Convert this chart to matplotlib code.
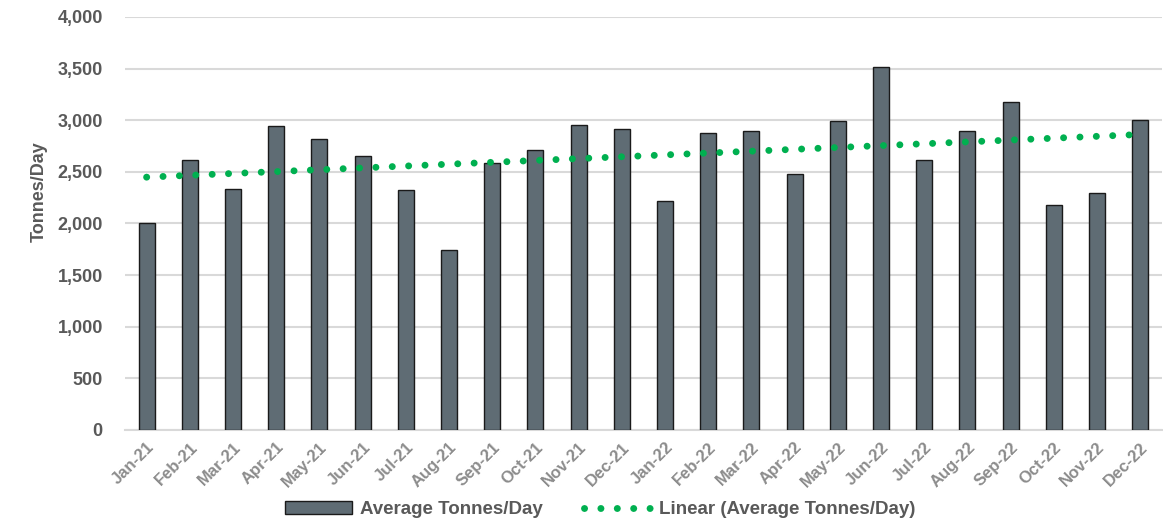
import numpy as np
import matplotlib
matplotlib.use("Agg")
import matplotlib.pyplot as plt
from matplotlib.ticker import FuncFormatter

plt.rcParams["font.family"] = ["Liberation Sans", "DejaVu Sans"]
plt.rcParams["font.weight"] = "bold"

months = ["Jan-21", "Feb-21", "Mar-21", "Apr-21", "May-21", "Jun-21",
          "Jul-21", "Aug-21", "Sep-21", "Oct-21", "Nov-21", "Dec-21",
          "Jan-22", "Feb-22", "Mar-22", "Apr-22", "May-22", "Jun-22",
          "Jul-22", "Aug-22", "Sep-22", "Oct-22", "Nov-22", "Dec-22"]
tonnes_per_day = [2005, 2615, 2334, 2944, 2818, 2654,
                  2324, 1738, 2586, 2712, 2954, 2915,
                  2218, 2877, 2894, 2475, 2993, 3516,
                  2610, 2894, 3172, 2174, 2297, 3006]

x = np.arange(len(months))
y = np.array(tonnes_per_day)

# least-squares trendline over the monthly averages
slope, intercept = np.polyfit(x, y, 1)
trend = slope * x + intercept

fig = plt.figure(figsize=(11.63, 5.23), dpi=100)
ax = fig.add_axes([0.1075, 0.178, 0.8915, 0.7895])

bars = ax.bar(x, y, width=0.37, color="#5f6c74", edgecolor="#1a1a1a",
              linewidth=1.0, label="Average Tonnes/Day", zorder=3)
line, = ax.plot(x, trend, color="#00b050", linestyle=(0, (0.01, 2.35)),
                linewidth=5, dash_capstyle="round",
                label="Linear (Average Tonnes/Day)", zorder=4)

ax.set_xlim(-0.5, len(months) - 0.5)
ax.set_ylim(0, 4000)
ax.set_yticks(np.arange(0, 4001, 500))
ax.yaxis.set_major_formatter(FuncFormatter(lambda v, p: f"{int(v):,}"))
ax.grid(axis="y", color="#d9d9d9", linewidth=1.5, zorder=0)
ax.set_axisbelow(True)

for side in ["top", "right", "left"]:
    ax.spines[side].set_visible(False)
ax.spines["bottom"].set_color("#d9d9d9")
ax.spines["bottom"].set_linewidth(1.5)

ax.set_xticks(x)
ax.set_xticklabels(months, rotation=45, ha="right", rotation_mode="anchor",
                   color="#8c8c8c", fontsize=12, fontweight="bold")
ax.tick_params(axis="x", length=0, pad=7)
ax.tick_params(axis="y", length=0, pad=16, labelsize=13, labelcolor="#595959")

ax.set_ylabel("Tonnes/Day", fontsize=13, fontweight="bold", color="#595959")
ax.yaxis.set_label_coords(-0.075, 0.576)

fig.legend([bars, line], ["Average Tonnes/Day", "Linear (Average Tonnes/Day)"],
           loc="center", bbox_to_anchor=(0.516, 0.025), ncol=2,
           frameon=False, fontsize=13.5, labelcolor="#595959",
           handlelength=3.6, columnspacing=2.2, handletextpad=0.4)

fig.savefig("out.png", dpi=100)
